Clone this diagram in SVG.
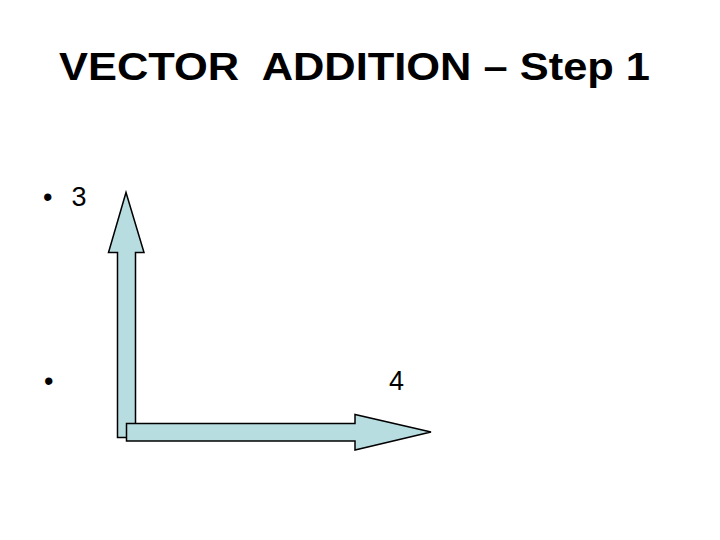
<svg xmlns="http://www.w3.org/2000/svg" width="720" height="540" viewBox="0 0 720 540">
<style>
.t{font-family:"Liberation Sans",Arial,sans-serif;fill:#000}
.title{font-size:39px;font-weight:bold;white-space:pre}
.b{font-size:27px}
.arr{fill:#B7DDE0;stroke:#000;stroke-width:1.5;stroke-linejoin:miter}
</style>
<rect width="720" height="540" fill="#fff"/>
<g id="title"><text class="t title" x="59" y="79.5" xml:space="preserve" textLength="591" lengthAdjust="spacingAndGlyphs">VECTOR  ADDITION – Step 1</text></g>
<g id="bullet1"><text class="t b" x="43" y="206">•</text><text class="t b" x="71.5" y="206">3</text></g>
<g id="bullet2"><text class="t b" x="44" y="390">•</text></g>
<g id="label4"><text class="t b" x="389" y="390">4</text></g>
<g id="connectors">
<g id="vecUp"><polygon class="arr" points="117.5,437.5 117.5,252.5 108.5,252.5 126,192.5 144,252.5 135.5,252.5 135.5,437.5"/></g>
<g id="vecRight"><polygon class="arr" points="126.5,423.5 355,423.5 355,414.5 431,432 355,450 355,441 126.5,441"/></g>
</g>
</svg>
